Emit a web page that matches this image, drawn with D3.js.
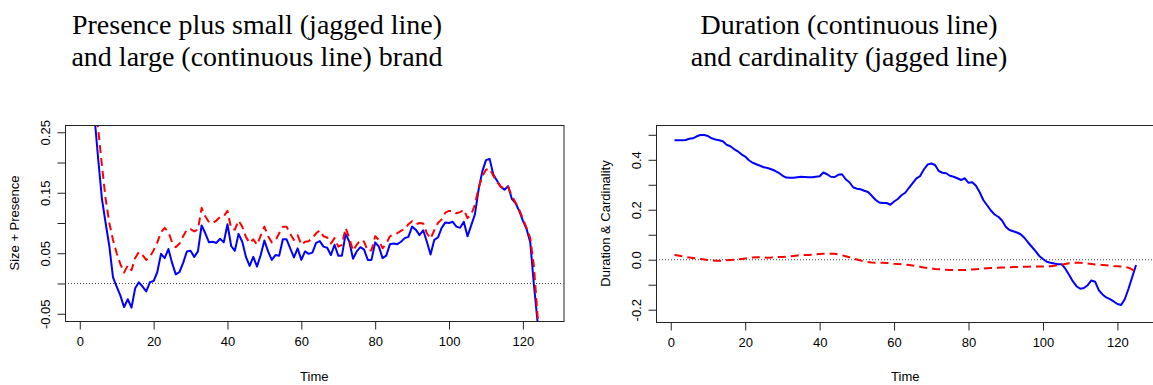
<!DOCTYPE html>
<html lang="en">
<head>
<meta charset="UTF-8">
<style>
    body { margin: 0; background: #fff; }
    svg { display: block; }
    .tick-label { font-family: "Liberation Sans", Arial, sans-serif; font-size: 13px; fill: #000; }
    .axis-title { font-family: "Liberation Sans", Arial, sans-serif; font-size: 13px; fill: #000; }
    .main-title { font-family: "Liberation Serif", "Times New Roman", serif; font-size: 28px; fill: #000; }
</style>
<title>Presence, duration and cardinality</title>
</head>
<body>
<script src="https://d3js.org/d3.v7.min.js"></script>
<script>
    // left panel: presence + small brand (dashed red) and large brand (solid blue), t = 1..126
    var presenceLarge = [
        0.50, 0.42, 0.345, 0.275, 0.205, 0.14, 0.10, 0.062, 0.010, -0.005,
        -0.020, -0.039, -0.026, -0.040, -0.008, 0.002, -0.005, -0.013, 0.002, 0.004,
        0.019, 0.049, 0.042, 0.057, 0.034, 0.015, 0.019, 0.034, 0.053, 0.054,
        0.044, 0.053, 0.096, 0.083, 0.068, 0.069, 0.067, 0.074, 0.068, 0.098,
        0.062, 0.054, 0.082, 0.069, 0.044, 0.029, 0.044, 0.028, 0.047, 0.071,
        0.053, 0.039, 0.047, 0.046, 0.073, 0.073, 0.058, 0.043, 0.058, 0.039,
        0.053, 0.049, 0.051, 0.067, 0.070, 0.061, 0.059, 0.047, 0.064, 0.046,
        0.046, 0.082, 0.069, 0.041, 0.053, 0.060, 0.056, 0.039, 0.039, 0.068,
        0.061, 0.042, 0.046, 0.065, 0.066, 0.065, 0.069, 0.075, 0.077, 0.094,
        0.089, 0.080, 0.088, 0.069, 0.048, 0.072, 0.076, 0.092, 0.101, 0.100,
        0.102, 0.094, 0.092, 0.102, 0.078, 0.096, 0.114, 0.155, 0.185, 0.204,
        0.206, 0.180, 0.170, 0.160, 0.155, 0.161, 0.140, 0.133, 0.120, 0.104,
        0.090, 0.068, -0.003, -0.065, -0.15, -0.25
    ];
    var presenceSmall = [
        0.55, 0.46, 0.385, 0.315, 0.255, 0.195, 0.14, 0.10, 0.072, 0.050,
        0.032, 0.018, 0.030, 0.022, 0.042, 0.052, 0.047, 0.039, 0.044, 0.055,
        0.068, 0.085, 0.092, 0.085, 0.068, 0.060, 0.066, 0.078, 0.089, 0.090,
        0.086, 0.089, 0.125, 0.111, 0.101, 0.100, 0.104, 0.110, 0.111, 0.120,
        0.091, 0.089, 0.104, 0.094, 0.077, 0.067, 0.073, 0.064, 0.079, 0.094,
        0.078, 0.068, 0.071, 0.083, 0.094, 0.094, 0.082, 0.072, 0.080, 0.064,
        0.069, 0.070, 0.075, 0.083, 0.088, 0.078, 0.076, 0.066, 0.075, 0.061,
        0.064, 0.092, 0.075, 0.054, 0.064, 0.072, 0.069, 0.054, 0.055, 0.078,
        0.072, 0.058, 0.066, 0.078, 0.081, 0.083, 0.087, 0.090, 0.098, 0.103,
        0.098, 0.100, 0.099, 0.083, 0.074, 0.088, 0.100, 0.106, 0.117, 0.120,
        0.120, 0.116, 0.118, 0.122, 0.108, 0.114, 0.130, 0.158, 0.177, 0.188,
        0.190, 0.178, 0.168, 0.160, 0.157, 0.160, 0.145, 0.134, 0.122, 0.107,
        0.092, 0.075, 0.028, -0.055, -0.14, -0.24
    ];

    // right panel: duration (solid blue) and cardinality (dashed red), t = 1..125
    var duration = [
        0.478, 0.478, 0.478, 0.479, 0.484, 0.486, 0.494, 0.499, 0.499, 0.495,
        0.486, 0.481, 0.478, 0.474, 0.460, 0.454, 0.443, 0.434, 0.422, 0.413,
        0.398, 0.388, 0.382, 0.376, 0.370, 0.367, 0.362, 0.356, 0.348, 0.337,
        0.329, 0.328, 0.328, 0.330, 0.332, 0.331, 0.330, 0.330, 0.332, 0.334,
        0.349, 0.342, 0.332, 0.331, 0.340, 0.342, 0.322, 0.310, 0.290, 0.284,
        0.282, 0.276, 0.271, 0.256, 0.240, 0.229, 0.227, 0.227, 0.220, 0.233,
        0.243, 0.258, 0.268, 0.288, 0.307, 0.326, 0.335, 0.361, 0.381, 0.385,
        0.379, 0.355, 0.348, 0.346, 0.336, 0.332, 0.326, 0.319, 0.326, 0.308,
        0.310, 0.296, 0.270, 0.238, 0.218, 0.197, 0.181, 0.172, 0.157, 0.132,
        0.119, 0.114, 0.109, 0.102, 0.088, 0.069, 0.052, 0.034, 0.015, 0.003,
        -0.008, -0.012, -0.015, -0.018, -0.018, -0.036, -0.060, -0.086, -0.106, -0.116,
        -0.113, -0.102, -0.083, -0.088, -0.122, -0.139, -0.151, -0.158, -0.167, -0.177,
        -0.181, -0.157, -0.115, -0.068, -0.021
    ];
    var cardinality = [
        0.019, 0.017, 0.014, 0.011, 0.009, 0.007, 0.005, 0.003, 0.001, -0.001,
        -0.003, -0.004, -0.004, -0.004, -0.002, -0.001, 0.000, 0.001, 0.003, 0.005,
        0.006, 0.009, 0.010, 0.010, 0.009, 0.008, 0.009, 0.011, 0.011, 0.011,
        0.012, 0.013, 0.015, 0.017, 0.019, 0.019, 0.019, 0.020, 0.022, 0.023,
        0.024, 0.024, 0.024, 0.024, 0.022, 0.018, 0.014, 0.010, 0.005, 0.001,
        -0.003, -0.006, -0.009, -0.011, -0.012, -0.012, -0.012, -0.013, -0.014, -0.016,
        -0.017, -0.018, -0.019, -0.021, -0.023, -0.025, -0.028, -0.031, -0.033, -0.035,
        -0.037, -0.038, -0.039, -0.040, -0.041, -0.041, -0.041, -0.041, -0.041, -0.040,
        -0.039, -0.038, -0.037, -0.035, -0.034, -0.033, -0.032, -0.032, -0.031, -0.031,
        -0.030, -0.029, -0.029, -0.028, -0.028, -0.028, -0.027, -0.027, -0.027, -0.027,
        -0.027, -0.026, -0.024, -0.022, -0.020, -0.017, -0.014, -0.012, -0.012, -0.012,
        -0.013, -0.015, -0.017, -0.019, -0.020, -0.021, -0.022, -0.023, -0.025, -0.026,
        -0.027, -0.029, -0.032, -0.040, -0.048
    ];

    var xTicks = [0, 20, 40, 60, 80, 100, 120];
    var leftYTicks = [-0.05, 0, 0.05, 0.10, 0.15, 0.20, 0.25];
    var leftYLabels = ["-0.05", "", "0.05", "", "0.15", "", "0.25"];
    var rightYTicks = [-0.2, -0.1, 0, 0.1, 0.2, 0.3, 0.4, 0.5];
    var rightYLabels = ["-0.2", "", "0.0", "", "0.2", "", "0.4", ""];

    var width = 1153, height = 385;
    var svg = d3.select('body').append('svg').attr('width', width).attr('height', height);

    // R style: pad limits by 4% on each side
    function pad(lim) {
        var d = (lim[1] - lim[0]) * 0.04;
        return [lim[0] - d, lim[1] + d];
    }

    function panel(opt) {
        var x = d3.scaleLinear().domain(pad(opt.xlim)).range([opt.left, opt.left + 498.5]);
        var y = d3.scaleLinear().domain(pad(opt.ylim)).range([opt.bottom, opt.top]);
        var g = svg.append('g');

        g.append('clipPath').attr('id', opt.id)
            .append('rect')
            .attr('x', x.range()[0]).attr('y', opt.top)
            .attr('width', x.range()[1] - x.range()[0]).attr('height', opt.bottom - opt.top);

        var plot = g.append('g').attr('clip-path', 'url(#' + opt.id + ')');

        plot.append('line')
            .attr('x1', x.range()[0]).attr('x2', x.range()[1])
            .attr('y1', y(0)).attr('y2', y(0))
            .attr('stroke', '#444').attr('stroke-width', 1)
            .attr('stroke-dasharray', '1,2');

        var line = d3.line()
            .x(function (d, i) { return x(i + 1); })
            .y(function (d) { return y(d); });

        plot.append('path').datum(opt.solid)
            .attr('d', line)
            .attr('fill', 'none').attr('stroke', '#0000ff').attr('stroke-width', 2)
            .attr('stroke-linejoin', 'round');

        plot.append('path').datum(opt.dashed)
            .attr('d', line)
            .attr('fill', 'none').attr('stroke', '#ff0000').attr('stroke-width', 2)
            .attr('stroke-linejoin', 'round')
            .attr('stroke-dasharray', '8,5');

        // box
        g.append('rect')
            .attr('x', x.range()[0] + 0.5).attr('y', opt.top + 0.5)
            .attr('width', x.range()[1] - x.range()[0]).attr('height', opt.bottom - opt.top)
            .attr('fill', 'none').attr('stroke', '#222').attr('stroke-width', 1);

        // x axis
        var xa = g.append('g').attr('transform', 'translate(0,' + (opt.bottom + 0.5) + ')')
            .call(d3.axisBottom(x).tickValues(xTicks).tickSize(8).tickPadding(7)
                .tickFormat(d3.format('d')));
        xa.select('.domain').attr('d', 'M' + x(xTicks[0]) + ',0H' + x(xTicks[xTicks.length - 1]))
            .attr('stroke', '#222');
        xa.selectAll('.tick line').attr('stroke', '#222');
        xa.selectAll('.tick text').attr('class', 'tick-label').attr('font-size', null).attr('font-family', null);
        xa.attr('font-size', null).attr('font-family', null);

        // y axis
        var ya = g.append('g').attr('transform', 'translate(' + (x.range()[0] + 0.5) + ',0)')
            .call(d3.axisLeft(y).tickValues(opt.yTicks).tickSize(8)
                .tickFormat(function (d, i) { return opt.yLabels[i]; }));
        ya.select('.domain').attr('d', 'M0,' + y(opt.yTicks[0]) + 'V' + y(opt.yTicks[opt.yTicks.length - 1]))
            .attr('stroke', '#222');
        ya.selectAll('.tick line').attr('stroke', '#222');
        ya.attr('font-size', null).attr('font-family', null);
        ya.selectAll('.tick text')
            .attr('class', 'tick-label')
            .attr('x', null).attr('dy', null)
            .attr('text-anchor', 'middle')
            .attr('transform', 'translate(-16,0) rotate(-90)');

        // axis titles
        g.append('text').attr('class', 'axis-title')
            .attr('x', (x.range()[0] + x.range()[1]) / 2).attr('y', 381)
            .attr('text-anchor', 'middle').text('Time');
        g.append('text').attr('class', 'axis-title')
            .attr('transform', 'translate(' + (x.range()[0] - 46) + ',' + ((opt.top + opt.bottom) / 2) + ') rotate(-90)')
            .attr('text-anchor', 'middle').text(opt.yTitle);

        // main title
        var t = g.append('text').attr('class', 'main-title').attr('text-anchor', 'middle');
        t.append('tspan').attr('x', opt.titleX).attr('y', 34).text(opt.title[0]);
        t.append('tspan').attr('x', opt.titleX).attr('y', 66).text(opt.title[1]);
    }

    panel({
        id: 'clipLeft', left: 65, top: 125, bottom: 321,
        xlim: [1, 126], ylim: [-0.05, 0.25],
        solid: presenceLarge, dashed: presenceSmall,
        yTicks: leftYTicks, yLabels: leftYLabels,
        yTitle: 'Size + Presence',
        title: ['Presence plus small (jagged line)', 'and large (continuous line) brand'],
        titleX: 257
    });

    panel({
        id: 'clipRight', left: 656, top: 125, bottom: 322,
        xlim: [1, 125], ylim: [-0.22, 0.51],
        solid: duration, dashed: cardinality,
        yTicks: rightYTicks, yLabels: rightYLabels,
        yTitle: 'Duration & Cardinality',
        title: ['Duration (continuous line)', 'and cardinality (jagged line)'],
        titleX: 849
    });
</script>
</body>
</html>
